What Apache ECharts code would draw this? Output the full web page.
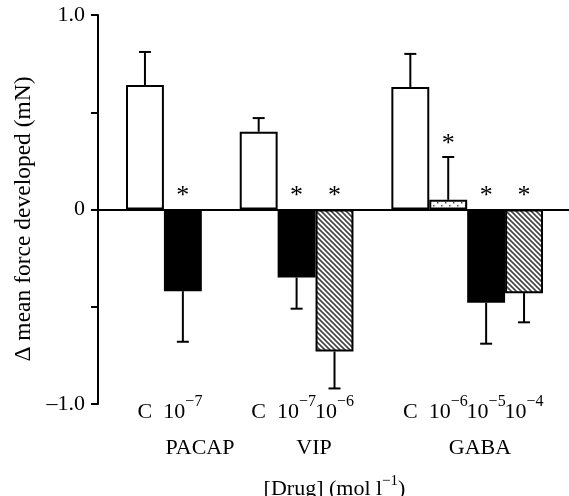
<!DOCTYPE html>
<html>
<head>
<meta charset="utf-8">
<script src="https://cdn.jsdelivr.net/npm/echarts@6/dist/echarts.min.js"></script>
<style>
  html, body { margin: 0; padding: 0; background: #fff; }
  #chart { width: 569px; height: 496px; }
</style>
</head>
<body>
<div id="chart"></div>
<script>
// slots along the x axis, '' = gap between drug groups
const categories = ['C', '10^−7', '', 'C', '10^−7', '10^−6', '', 'C', '10^−6', '10^−5', '10^−4']
const means = [0.64, -0.42, null, 0.40, -0.35, -0.73, null, 0.63, 0.05, -0.48, -0.43]
const sems = [0.17, 0.26, null, 0.07, 0.16, 0.19, null, 0.17, 0.22, 0.21, 0.15]
const fills = ['open', 'solid', null, 'open', 'solid', 'hatch', null, 'open', 'dots', 'solid', 'hatch']
const signif = [false, true, false, false, true, true, false, false, true, true, true]
const groups = ['PACAP', 'VIP', 'GABA']
const yTicks = ['–1.0', '', '0', '', '1.0']

const serif = 'Liberation Serif'

function hatchPattern() {
  const c = document.createElement('canvas')
  c.width = 5
  c.height = 5
  const ctx = c.getContext('2d')
  ctx.fillStyle = '#fff'
  ctx.fillRect(0, 0, 5, 5)
  ctx.strokeStyle = '#444'
  ctx.lineWidth = 1.6
  ctx.beginPath()
  ctx.moveTo(-1, -1); ctx.lineTo(6, 6)
  ctx.moveTo(-1, 4); ctx.lineTo(1, 6)
  ctx.moveTo(4, -1); ctx.lineTo(6, 1)
  ctx.stroke()
  return c
}

function dotPattern() {
  const c = document.createElement('canvas')
  c.width = 8
  c.height = 6
  const ctx = c.getContext('2d')
  ctx.fillStyle = '#fff'
  ctx.fillRect(0, 0, 8, 6)
  ctx.fillStyle = '#555'
  ctx.fillRect(1, 1, 1.5, 1.5)
  ctx.fillRect(5, 4, 1.5, 1.5)
  return c
}

const fillColor = {
  open: '#fff',
  solid: '#000',
  hatch: { image: hatchPattern(), repeat: 'repeat' },
  dots: { image: dotPattern(), repeat: 'repeat' }
}

const barData = means.map((v, i) => {
  if (v === null) return '-'
  return { value: v, itemStyle: { color: fillColor[fills[i]] } }
})

// error bar goes outward from the bar end
const errData = means.map((v, i) => {
  if (v === null) return [i, '-', '-']
  return [i, v, v >= 0 ? v + sems[i] : v - sems[i]]
})

const starData = []
means.forEach((v, i) => {
  if (signif[i]) starData.push([i, v > 0 ? v + sems[i] : 0])
})

function catLabel(v) {
  if (!v) return ''
  const parts = v.split('^')
  if (parts.length === 1) return '{b|' + parts[0] + '}'
  return '{b|' + parts[0] + '}{s|' + parts[1] + '}'
}

const supRich = {
  b: { fontFamily: serif, fontSize: 22, color: '#000', lineHeight: 36 },
  s: { fontFamily: serif, fontSize: 16, color: '#000', lineHeight: 16, verticalAlign: 'top' }
}

const titleRich = {
  b: { fontFamily: serif, fontSize: 22, color: '#000', lineHeight: 30 },
  s: { fontFamily: serif, fontSize: 15, color: '#000', lineHeight: 15, verticalAlign: 'top' }
}

const chart = echarts.init(document.getElementById('chart'), null, { renderer: 'canvas' })

chart.setOption({
  animation: false,
  backgroundColor: '#fff',
  textStyle: { fontFamily: serif, color: '#000' },
  grid: [
    { left: 98, right: 0, top: 15, bottom: 92, outerBoundsMode: 'none' },
    { left: 126, right: 26, top: 15, bottom: 92, outerBoundsMode: 'none' }
  ],
  xAxis: [
    {
      gridIndex: 0,
      type: 'value',
      min: 0,
      max: 1,
      axisLine: { show: true, onZero: true, lineStyle: { color: '#000', width: 2 } },
      axisTick: { show: false },
      axisLabel: { show: false },
      splitLine: { show: false }
    },
    {
      gridIndex: 1,
      type: 'category',
      data: categories,
      position: 'bottom',
      axisLine: { show: false, onZero: false },
      axisTick: { show: false },
      axisLabel: {
        interval: 0,
        margin: -10,
        formatter: catLabel,
        rich: supRich
      },
      name: '{b|[Drug] (mol l}{s|−1}{b|)}',
      nameLocation: 'middle',
      nameGap: 70,
      nameTextStyle: { rich: titleRich }
    }
  ],
  yAxis: [
    {
      gridIndex: 0,
      type: 'value',
      min: -1,
      max: 1,
      interval: 0.5,
      axisLine: { show: true, lineStyle: { color: '#000', width: 2 } },
      axisTick: { show: true, length: 7, lineStyle: { color: '#000', width: 2 } },
      axisLabel: {
        margin: 13,
        fontFamily: serif,
        fontSize: 22,
        color: '#000',
        formatter: (v) => yTicks[Math.round((v + 1) * 2)]
      },
      splitLine: { show: false },
      name: 'Δ mean force developed (mN)',
      nameLocation: 'middle',
      nameGap: 60,
      nameTextStyle: { fontFamily: serif, fontSize: 23.5, color: '#000', padding: [0, 19, 0, 0] }
    },
    {
      gridIndex: 1,
      type: 'value',
      min: -1,
      max: 1,
      show: false
    }
  ],
  graphic: groups.map((g, k) => ({
    type: 'text',
    x: [200, 314, 480][k],
    y: 448,
    style: {
      text: g,
      font: '22px "Liberation Serif"',
      fill: '#000',
      align: 'center',
      verticalAlign: 'middle'
    }
  })),
  series: [
    {
      type: 'bar',
      xAxisIndex: 1,
      yAxisIndex: 1,
      data: barData,
      barWidth: '100%',
      barCategoryGap: '0%',
      itemStyle: { borderColor: '#000', borderWidth: 2 },
      z: 2
    },
    {
      type: 'custom',
      xAxisIndex: 1,
      yAxisIndex: 1,
      data: errData,
      z: 3,
      renderItem(params, api) {
        if (isNaN(api.value(1))) return null
        const p0 = api.coord([api.value(0), api.value(1)])
        const p1 = api.coord([api.value(0), api.value(2)])
        const style = { stroke: '#000', lineWidth: 2 }
        return {
          type: 'group',
          children: [
            { type: 'line', shape: { x1: p0[0], y1: p0[1], x2: p1[0], y2: p1[1] }, style },
            { type: 'line', shape: { x1: p1[0] - 6, y1: p1[1], x2: p1[0] + 6, y2: p1[1] }, style }
          ]
        }
      }
    },
    {
      type: 'custom',
      xAxisIndex: 1,
      yAxisIndex: 1,
      data: starData,
      z: 4,
      renderItem(params, api) {
        const p = api.coord([api.value(0), api.value(1)])
        return {
          type: 'text',
          x: p[0],
          y: p[1] - 13,
          style: {
            text: '*',
            font: '26px "Liberation Serif"',
            fill: '#000',
            align: 'center',
            verticalAlign: 'middle'
          }
        }
      }
    }
  ]
})
</script>
</body>
</html>
